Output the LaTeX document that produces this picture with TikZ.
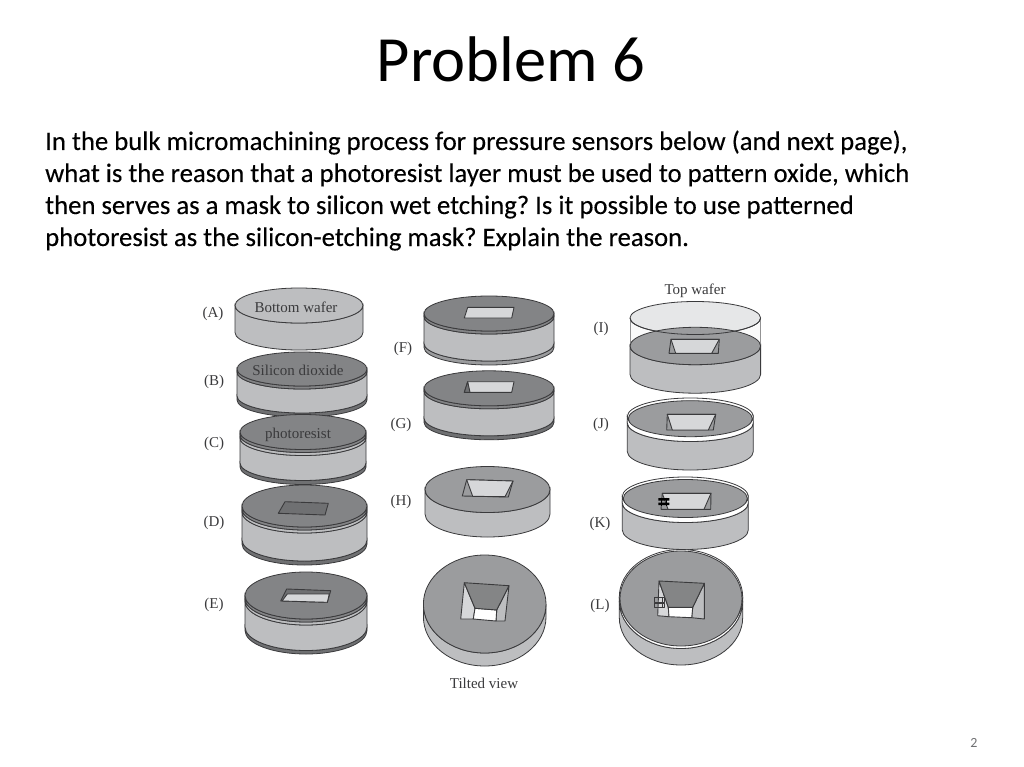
\documentclass[tikz,border=0pt]{standalone}
\usepackage{fontspec}
\setmainfont{Carlito}
\newfontfamily\bodyfont{Carlito}[FakeBold=0.2]
\newfontfamily\labelfont{Liberation Serif}
\frenchspacing
\definecolor{bodygray}{HTML}{BDBEC0}
\definecolor{topgray}{HTML}{838486}
\definecolor{midgray}{HTML}{9B9C9E}
\definecolor{darkgray}{HTML}{6F7072}
\definecolor{lightface}{HTML}{D6D7D9}
\definecolor{inkline}{HTML}{3A3A3C}
\newcommand{\cyl}[6]{\filldraw[waferline,fill=#6] (#1-#3,#2) -- (#1-#3,#2+#5) arc (180:0:#3 and #4) -- (#1+#3,#2) arc (0:180:#3 and #4) -- cycle;}
\newcommand{\face}[5]{\filldraw[waferline,fill=#5] (#1,#2) ellipse (#3 and #4);}
\begin{document}
\begin{tikzpicture}[x=1pt,y=-1pt,
	waferline/.style={draw=inkline,line width=0.8pt},
	wall/.style={draw=inkline,line width=0.9pt,line join=round},
	steplabel/.style={font=\labelfont\fontsize{15}{17}\selectfont,text=inkline,inner sep=0pt},
	bodyline/.style={anchor=base west,font=\bodyfont\fontsize{26.7}{30}\selectfont,inner sep=0pt}]
	\useasboundingbox[fill=white] (0,0) rectangle (1024,767);
	\node[font=\fontsize{64.5}{68}\selectfont,inner sep=0pt,anchor=base] (title) at (511,81.5) {Problem 6};
	\node[bodyline] (line1) at (45,150) {In the bulk micromachining process for pressure sensors below (and next page),};
	\node[bodyline] (line2) at (45,182) {what is the reason that a photoresist layer must be used to pattern oxide, which};
	\node[bodyline] (line3) at (45,214) {then serves as a mask to silicon wet etching? Is it possible to use patterned};
	\node[bodyline] (line4) at (45,246) {photoresist as the silicon-etching mask? Explain the reason.};
	\node[font=\fontsize{14}{16}\selectfont,text=darkgray,inner sep=0pt] (pagenum) at (974,743) {2};

	% left column
	\cyl{299}{305.5}{64}{17.5}{27}{bodygray}
	\face{299}{305.5}{64}{17.5}{bodygray}

	\cyl{302}{396}{65}{17}{4}{darkgray}
	\cyl{302}{372}{65}{17}{24}{bodygray}
	\cyl{302}{369}{65}{17}{3}{topgray}
	\face{302}{369}{65}{17}{topgray}

	\cyl{303}{463}{63}{17.5}{4}{darkgray}
	\cyl{303}{438}{63}{17.5}{25}{bodygray}
	\cyl{303}{435}{63}{17.5}{3}{bodygray}
	\cyl{303}{432}{63}{17.5}{3}{topgray}
	\face{303}{432}{63}{17.5}{topgray}

	\cyl{304.5}{540}{62.5}{21}{4}{darkgray}
	\cyl{304.5}{512}{62.5}{21}{28}{bodygray}
	\cyl{304.5}{509}{62.5}{21}{3}{bodygray}
	\cyl{304.5}{506}{62.5}{21}{3}{topgray}
	\face{304.5}{506}{62.5}{21}{topgray}
	\filldraw[wall,fill=darkgray] (285,501.7) -- (328.3,503.3) -- (325,515) -- (278.3,513.3) -- cycle;

	\cyl{306}{627}{61}{23.5}{3.5}{darkgray}
	\cyl{306}{601.5}{61}{23.5}{25.5}{bodygray}
	\cyl{306}{598.5}{61}{23.5}{3}{bodygray}
	\cyl{306}{595.5}{61}{23.5}{3}{topgray}
	\face{306}{595.5}{61}{23.5}{topgray}
	\filldraw[wall,fill=darkgray] (286.7,589) -- (330.7,590.7) -- (327.3,602.3) -- (280.7,601) -- cycle;
	\filldraw[wall,fill=lightface] (287.3,594) -- (329.3,594) -- (327.3,602.3) -- (282,601) -- cycle;

	% middle column
	\cyl{489}{343.5}{65}{17.5}{4}{midgray}
	\cyl{489}{316.5}{65}{17.5}{27}{bodygray}
	\cyl{489}{313.5}{65}{17.5}{3}{topgray}
	\face{489}{313.5}{65}{17.5}{topgray}
	\filldraw[wall,fill=lightface] (467.7,307.3) -- (514,307.3) -- (511.7,318) -- (464.3,318) -- cycle;

	\cyl{489}{418.3}{65}{17.5}{4}{darkgray}
	\cyl{489}{391.3}{65}{17.5}{27}{bodygray}
	\cyl{489}{388.3}{65}{17.5}{3}{topgray}
	\face{489}{388.3}{65}{17.5}{topgray}
	\filldraw[wall,fill=lightface] (467.7,381.7) -- (514,381.7) -- (511.7,392.3) -- (464.3,392.3) -- cycle;
	\filldraw[wall,fill=darkgray] (467.7,381.7) -- (470,392.3) -- (464.3,392.3) -- cycle;

	\cyl{487.5}{489.5}{62.5}{23}{24.5}{bodygray}
	\face{487.5}{489.5}{62.5}{23}{midgray}
	\filldraw[wall,fill=midgray] (466.7,479.7) -- (513,481) -- (508.3,497) -- (462.3,496) -- cycle;
	\filldraw[wall,fill=lightface] (466.7,479.7) -- (513,481) -- (505,496.7) -- (472.7,496.3) -- cycle;

	\cyl{484.7}{604}{61.3}{49}{13}{bodygray}
	\face{484.7}{604}{61.3}{49}{midgray}
	\filldraw[wall,fill=bodygray] (509,585.7) -- (505,621) -- (496,621) -- (496.7,610) -- cycle;
	\filldraw[wall,fill=lightface] (464.3,582.7) -- (475,608.3) -- (473.3,619) -- (460.7,619) -- cycle;
	\filldraw[wall,fill=white] (475,608.3) -- (496.7,610) -- (496,621) -- (473.3,619) -- cycle;
	\filldraw[wall,fill=midgray!85!black] (464.3,582.7) -- (509,585.7) -- (496.7,610) -- (475,608.3) -- cycle;

	% right column
	\filldraw[waferline,draw=inkline!55!white,fill=white!92!bodygray] (630,318) -- (630,346) -- (760.6,346) -- (760.6,318) -- cycle;
	\face{695.3}{318}{65.3}{16.5}{lightface!60!white}
	\cyl{695.3}{346}{65.3}{18.7}{28.5}{bodygray}
	\face{695.3}{346}{65.3}{18.7}{midgray}
	\draw[waferline] (630,318) arc (180:0:65.3 and 16.5);
	\filldraw[wall,fill=midgray] (671,339.3) -- (719.3,339.3) -- (718.3,353.3) -- (669,353.3) -- cycle;
	\filldraw[wall,fill=lightface] (671,339.3) -- (719.3,339.3) -- (711.7,353.3) -- (675.7,353.3) -- cycle;

	\cyl{690.3}{423}{63}{18.5}{28.5}{bodygray}
	\cyl{690.3}{416.5}{63}{18.5}{6.5}{white}
	\face{690.3}{416.5}{63}{18.5}{white}
	\face{690.3}{418.7}{62}{18}{midgray}
	\filldraw[wall,fill=midgray] (667.3,414.3) -- (715.7,414.3) -- (713.3,430) -- (666.7,430) -- cycle;
	\filldraw[wall,fill=lightface] (667.3,414.3) -- (715.7,414.3) -- (708.3,430) -- (672.3,430) -- cycle;

	\cyl{685.3}{503}{63}{19.5}{27}{bodygray}
	\cyl{685.3}{496.5}{63}{19.5}{6.5}{white}
	\face{685.3}{496.5}{63}{19.5}{white}
	\face{685.3}{498.5}{62}{19}{midgray}
	\filldraw[wall,fill=midgray] (662.3,493.3) -- (711,493.3) -- (710.7,509.3) -- (661,509.3) -- cycle;
	\filldraw[wall,fill=lightface] (662.3,493.3) -- (711,493.3) -- (704,509.3) -- (668,509.3) -- cycle;
	\fill[black] (658.3,498) rectangle (669.3,500.5) (658.3,502.5) rectangle (669.3,505);
	\draw[black,line width=1pt] (661.5,497.5) -- (661.5,505.5) (666.7,497.5) -- (666.7,505.5);

	\cyl{681}{601}{61.7}{47.5}{16.5}{bodygray}
	\cyl{681}{597}{61.7}{47.5}{4}{white}
	\face{681}{597}{61.7}{47.5}{white}
	\face{681}{598.5}{61}{47.5}{midgray}
	\filldraw[wall,fill=bodygray] (704.3,583.3) -- (704.3,619) -- (691.7,617.7) -- (692.7,607.3) -- cycle;
	\filldraw[wall,fill=lightface] (659,581) -- (668.3,607.3) -- (669,616.7) -- (657.7,615.7) -- cycle;
	\filldraw[wall,fill=white] (668.3,607.3) -- (692.7,607.3) -- (691.7,617.7) -- (669,616.7) -- cycle;
	\filldraw[wall,fill=midgray!85!black] (659,581) -- (704.3,583.3) -- (692.7,607.3) -- (668.3,607.3) -- cycle;
	\draw[wall,line width=0.7pt] (654.3,597.3) rectangle (664.3,602) (654.3,603.3) rectangle (664.3,607.3) (662.7,596.5) -- (662.7,608);

	% labels
	\node[steplabel] (stepA) at (213,314) {(A)};
	\node[steplabel] (stepB) at (214,382) {(B)};
	\node[steplabel] (stepC) at (214,444) {(C)};
	\node[steplabel] (stepD) at (214,523) {(D)};
	\node[steplabel] (stepE) at (214,605) {(E)};
	\node[steplabel] (stepF) at (403,349) {(F)};
	\node[steplabel] (stepG) at (401,425) {(G)};
	\node[steplabel] (stepH) at (401,502) {(H)};
	\node[steplabel] (stepI) at (601,329) {(I)};
	\node[steplabel] (stepJ) at (601,425) {(J)};
	\node[steplabel] (stepK) at (600,524) {(K)};
	\node[steplabel] (stepL) at (600,606) {(L)};
	\node[steplabel] (bottomwafer) at (296,307) {Bottom wafer};
	\node[steplabel] (oxide) at (298,370) {Silicon dioxide};
	\node[steplabel] (resist) at (298,435) {photoresist};
	\node[steplabel] (topwafer) at (695,291) {Top wafer};
	\node[steplabel] (tilted) at (484,683) {Tilted view};
\end{tikzpicture}
\end{document}
